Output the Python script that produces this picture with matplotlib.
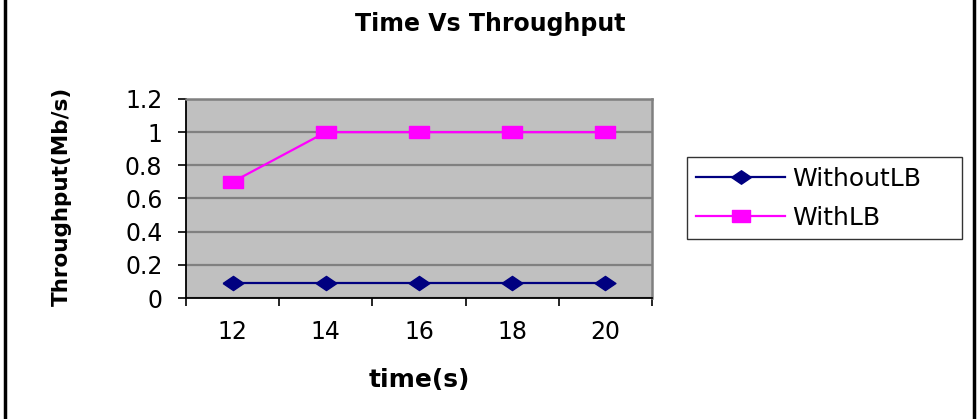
import matplotlib
matplotlib.use("Agg")
import matplotlib.pyplot as plt
from matplotlib.lines import Line2D
import numpy as np

categories = ["12", "14", "16", "18", "20"]
without_lb = [0.09, 0.09, 0.09, 0.09, 0.09]
with_lb = [0.7, 1.0, 1.0, 1.0, 1.0]
yticks = [0, 0.2, 0.4, 0.6, 0.8, 1.0, 1.2]
ytick_labels = ["0", "0.2", "0.4", "0.6", "0.8", "1", "1.2"]

plt.rcParams['font.family'] = ['DejaVu Sans']

W, H = 979, 419
fig = plt.figure(figsize=(W / 100, H / 100), dpi=100)
fig.patch.set_facecolor('white')

L, R, T, B = 186, 652, 99, 298
ax = fig.add_axes([L / W, 1 - B / H, (R - L) / W, (B - T) / H])
ax.set_facecolor('#C0C0C0')

x = np.arange(len(categories))

diamond = [(-1, 0), (0, 0.68), (1, 0), (0, -0.68), (-1, 0)]
rect = [(-1, -0.62), (1, -0.62), (1, 0.62), (-1, 0.62), (-1, -0.62)]

ax.plot(x, without_lb, color='#000080', lw=1.6, marker=diamond, markersize=15,
        markerfacecolor='#000080', markeredgecolor='#000080', label='WithoutLB', zorder=3)
ax.plot(x, with_lb, color='#FF00FF', lw=1.6, marker=rect, markersize=14,
        markerfacecolor='#FF00FF', markeredgecolor='#FF00FF', label='WithLB', zorder=3)

ax.set_xlim(-0.5, len(categories) - 0.5)
ax.set_ylim(0, 1.2)
ax.set_yticks(yticks)
ax.set_yticklabels(ytick_labels)
ax.yaxis.grid(True, color='#808080', lw=1.6)
ax.set_axisbelow(True)

ax.set_xticks(x)
ax.set_xticklabels(categories)
ax.set_xticks(np.arange(-0.5, len(categories)), minor=True)
ax.tick_params(axis='x', which='major', length=0, pad=16, labelsize=17)
ax.tick_params(axis='x', which='minor', length=6, width=1.2, direction='out', color='black')
ax.tick_params(axis='y', length=6, width=1.2, direction='out', pad=11, labelsize=17, color='black')

for s in ['left', 'bottom']:
    ax.spines[s].set_color('black')
    ax.spines[s].set_linewidth(1.3)
for s in ['top', 'right']:
    ax.spines[s].set_color('#808080')
    ax.spines[s].set_linewidth(1.8)

fig.text(490 / W, 1 - 24 / H, 'Time Vs Throughput', ha='center', va='center',
         fontsize=17, fontweight='bold')
fig.text(419 / W, 1 - 380 / H, 'time(s)', ha='center', va='center',
         fontsize=18, fontweight='bold')
fig.text(62 / W, 1 - 196 / H, 'Throughput(Mb/s)', ha='center', va='center',
         rotation=90, fontsize=15.5, fontweight='bold')

fs = 18
leg = ax.legend(loc='upper left',
                bbox_to_anchor=(687 / W, 1 - 241 / H, (962 - 687) / W, (241 - 157) / H),
                bbox_transform=fig.transFigure, mode='expand', frameon=True, fancybox=False,
                edgecolor='black', fontsize=fs, handlelength=3.56, handletextpad=0.28,
                borderaxespad=0, borderpad=0.38, labelspacing=0.62, markerscale=0.95)
leg.get_frame().set_linewidth(1.0)

fig.add_artist(Line2D([5 / W, 5 / W], [0, 1], color='black', lw=2.5, transform=fig.transFigure))
fig.add_artist(Line2D([974 / W, 974 / W], [0, 1], color='black', lw=2.5, transform=fig.transFigure))

fig.savefig('out.png', dpi=100, facecolor='white')
